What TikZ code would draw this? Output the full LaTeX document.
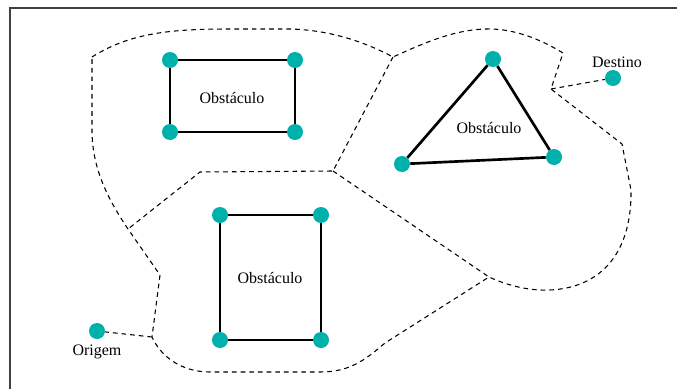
\documentclass[tikz,border=0pt]{standalone}
\usepackage{fontspec}
\setmainfont{Liberation Serif}
\definecolor{turquesa}{RGB}{0,176,170}
\tikzset{
  vertice/.style={circle,fill=turquesa,inner sep=0pt,minimum size=12pt},
  aresta/.style={line width=2pt},
  fronteira/.style={line width=0.8pt,dash pattern=on 3.5pt off 3pt},
  rotulo/.style={font=\fontsize{12}{14}\selectfont}
}
\begin{document}
\begin{tikzpicture}[x=0.75pt,y=-0.75pt]
\useasboundingbox (0,0) rectangle (677,389);
\draw [line width=1.2pt,color=black!75] (10,389) -- (10,8) -- (677,8);

% obstaculos
\node [vertice] (a1) at (170,60) {};
\node [vertice] (a2) at (295,60) {};
\node [vertice] (a3) at (295,132) {};
\node [vertice] (a4) at (170,132) {};
\draw [aresta] (a1) -- (a2) -- (a3) -- (a4) -- (a1);
\node [rotulo] (t1) at (232,98) {Obstáculo};

\node [vertice] (b1) at (220,215) {};
\node [vertice] (b2) at (321,215) {};
\node [vertice] (b3) at (321,340) {};
\node [vertice] (b4) at (220,340) {};
\draw [aresta] (b1) -- (b2) -- (b3) -- (b4) -- (b1);
\node [rotulo] (t2) at (270,278) {Obstáculo};

\node [vertice] (c1) at (493,59) {};
\node [vertice] (c2) at (554,157) {};
\node [vertice] (c3) at (402,164) {};
\draw [aresta] (c1) -- (c2) -- (c3) -- (c1);
\node [rotulo] (t3) at (489,128) {Obstáculo};

% origem e destino
\node [vertice] (dest) at (613,78) {};
\node [rotulo] (ldest) at (617,62) {Destino};
\node [vertice] (orig) at (97,331) {};
\node [rotulo] (lorig) at (97,352) {Origem};

% pontos de juncao
\coordinate (j1) at (393,57);
\coordinate (j2) at (551,89);
\coordinate (j3) at (489,277);
\coordinate (j4) at (152,337);
\coordinate (j5) at (128,229);
\coordinate (j6) at (333,171);
\coordinate (j7) at (200,172);

\draw [fronteira] (92,57) .. controls (130,33) and (170,29) .. (230,29) -- (290,29)
  .. controls (330,30) and (365,42) .. (j1)
  .. controls (420,45) and (455,28) .. (492,29) .. controls (520,30) and (545,42) .. (563,53)
  -- (j2) -- (622,144) -- (631,190)
  .. controls (632,262) and (592,292) .. (540,290) .. controls (520,289) and (502,283) .. (j3)
  -- (385,343) .. controls (365,360) and (350,372) .. (320,372) -- (210,372)
  .. controls (180,372) and (160,355) .. (j4)
  -- (160,275) -- (j5) .. controls (105,195) and (92,165) .. (92,130) -- cycle;
\draw [fronteira] (j1) -- (j6) -- (j7) -- (j5);
\draw [fronteira] (j6) -- (j3);
\draw [fronteira] (j2) -- (dest);
\draw [fronteira] (j4) -- (orig);
\end{tikzpicture}
\end{document}
